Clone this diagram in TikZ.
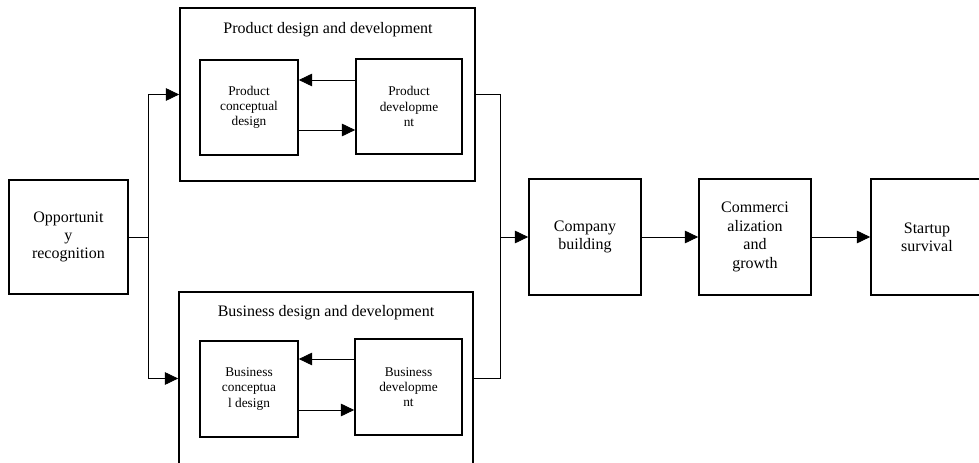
\documentclass[tikz,border=0pt]{standalone}
\usepackage{fontspec}
\setmainfont{Liberation Serif}
\usetikzlibrary{arrows.meta,calc}

\begin{document}
\begin{tikzpicture}[x=0.75pt, y=-0.75pt,
    stage/.style={draw, line width=1.3pt, inner sep=0pt, align=center,
        font=\fontsize{12}{13.8}\selectfont},
    substage/.style={draw, line width=1.3pt, inner sep=0pt, align=center,
        font=\fontsize{10}{11.3}\selectfont},
    group/.style={draw, line width=1.3pt, inner sep=0pt},
    link/.style={line width=0.6pt},
    arr/.style={line width=0.6pt, -{Triangle[length=10pt,width=9.5pt]}}]
    \useasboundingbox (0, 0) rectangle (979, 463);
    \clip (0, 0) rectangle (979, 463);

    % start
    \node[stage, minimum width=89.25pt, minimum height=85.5pt] (opp) at (68.5, 237)
        {Opportunit\\y\\recognition};

    % product branch
    \node[group, minimum width=221.25pt, minimum height=129.75pt] (prodbox) at (327.5, 94.5) {};
    \node[font=\fontsize{12}{13.8}\selectfont] (prodtitle) at (328, 30) {Product design and development};
    \node[substage, minimum width=73.5pt, minimum height=71.25pt] (pcd) at (249, 107.5)
        {Product\\conceptual\\design};
    \node[substage, minimum width=79.5pt, minimum height=71.25pt] (pdev) at (409, 106.5)
        {Product\\developme\\nt};
        \draw[arr] ($(pdev.west)+(0,-26.5)$) -- ($(pcd.east)+(0,-27.5)$);
        \draw[arr] ($(pcd.east)+(0,22.5)$) -- ($(pdev.west)+(0,23.5)$);

    % business branch
    \node[group, minimum width=220.5pt, minimum height=129.75pt] (busbox) at (326, 378.5) {};
    \node[font=\fontsize{12}{13.8}\selectfont] (bustitle) at (326, 313) {Business design and development};
    \node[substage, minimum width=73.5pt, minimum height=72pt] (bcd) at (249, 389)
        {Business\\conceptua\\l design};
    \node[substage, minimum width=80.25pt, minimum height=72pt] (bdev) at (408.5, 387)
        {Business\\developme\\nt};
        \draw[arr] ($(bdev.west)+(0,-28)$) -- ($(bcd.east)+(0,-30)$);
        \draw[arr] ($(bcd.east)+(0,21)$) -- ($(bdev.west)+(0,23)$);

    % split and merge
    \coordinate (split) at (148, 237);
    \coordinate (jt) at (500, 94.5);
    \coordinate (jb) at (500, 378.5);
    \draw[link] (opp.east) -- (split);
    \draw[arr] (split) |- (prodbox.west);
    \draw[arr] (split) |- (busbox.west);
    \draw[link] (prodbox.east) -- (jt) -- (jb) -- (busbox.east);

    % later stages
    \node[stage, minimum width=84pt, minimum height=87pt] (comp) at (585, 237)
        {Company\\building};
    \node[stage, minimum width=84pt, minimum height=87pt] (comm) at (755, 237)
        {Commerci\\alization\\and\\growth};
    \node[stage, minimum width=84pt, minimum height=87pt] (surv) at (927, 237)
        {Startup\\survival};

    \draw[arr] (jt |- comp.west) -- (comp.west);
    \draw[arr] (comp.east) -- (comm.west);
    \draw[arr] (comm.east) -- (surv.west);
\end{tikzpicture}
\end{document}
